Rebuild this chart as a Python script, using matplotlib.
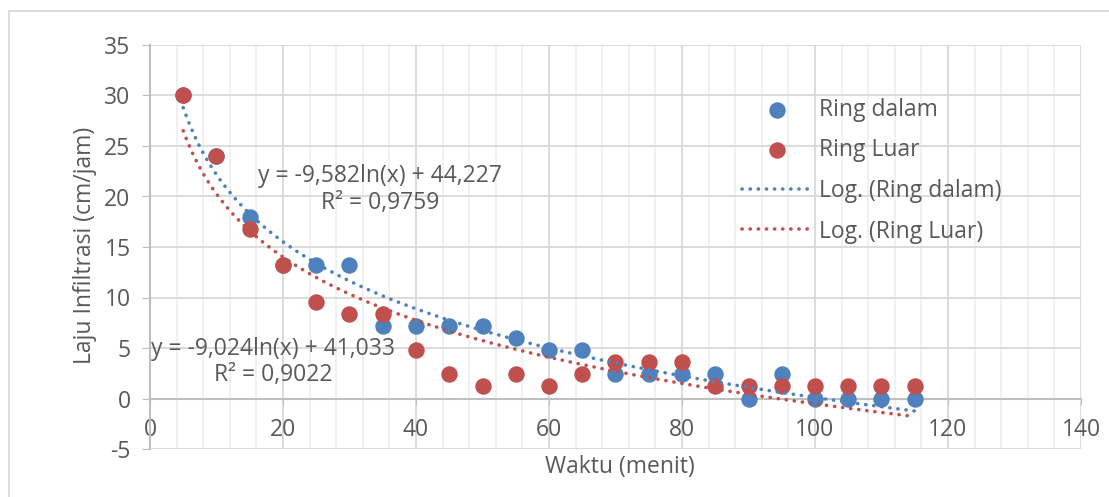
import numpy as np
import matplotlib
matplotlib.use("Agg")
from matplotlib import pyplot as plt
from matplotlib.patches import Rectangle
from matplotlib.ticker import MultipleLocator

# waktu pengukuran (menit)
waktu = [5, 10, 15, 20, 25, 30, 35, 40, 45, 50, 55, 60,
         65, 70, 75, 80, 85, 90, 95, 100, 105, 110, 115]
# laju infiltrasi (cm/jam)
ring_dalam = [30, 24, 18, 13.2, 13.2, 13.2, 7.2, 7.2, 7.2, 7.2, 6, 4.8,
              4.8, 2.4, 2.4, 2.4, 2.4, 0, 2.4, 0, 0, 0, 0]
ring_luar = [30, 24, 16.8, 13.2, 9.6, 8.4, 8.4, 4.8, 2.4, 1.2, 2.4, 1.2,
             2.4, 3.6, 3.6, 3.6, 1.2, 1.2, 1.2, 1.2, 1.2, 1.2, 1.2]

label_dalam = "y = -9,582ln(x) + 44,227\nR² = 0,9759"
label_luar = "y = -9,024ln(x) + 41,033\nR² = 0,9022"

biru = "#4F81BD"
merah = "#C0504D"
teks = "#595959"

plt.rcParams['font.family'] = ['Open Sans', 'DejaVu Sans']
plt.rcParams['font.size'] = 16.5
plt.rcParams['text.color'] = teks
plt.rcParams['axes.unicode_minus'] = False

fig = plt.figure(figsize=(11.09, 4.97), dpi=100)
ax = fig.add_axes([150/1109, 1-449/497, 931/1109, 404/497])

x = np.array(waktu, dtype=float)

# trendline logaritmik (fit dari data, seperti di Excel)
xt = np.linspace(x.min(), x.max(), 200)
a1, b1 = np.polyfit(np.log(x), np.array(ring_dalam), 1)
a2, b2 = np.polyfit(np.log(x), np.array(ring_luar), 1)

ax.scatter(waktu, ring_dalam, s=140, color=biru, zorder=3, label="Ring dalam", linewidths=0)
ax.scatter(waktu, ring_luar, s=140, color=merah, zorder=3, label="Ring Luar", linewidths=0)
dot = (0, (0.05, 2.2))
ax.plot(xt, a1*np.log(xt)+b1, color=biru, lw=2.6, linestyle=dot,
        dash_capstyle='round', label="Log. (Ring dalam)", zorder=4)
ax.plot(xt, a2*np.log(xt)+b2, color=merah, lw=2.6, linestyle=dot,
        dash_capstyle='round', label="Log. (Ring Luar)", zorder=4)

ax.text(34.6, 20.7, label_dalam, ha='center', va='center', linespacing=1.15, color=teks)
ax.text(18.5, 3.6, label_luar, ha='center', va='center', linespacing=1.15, color=teks)

ax.set_xlim(0, 140)
ax.set_ylim(-5, 35)
ax.xaxis.set_major_locator(MultipleLocator(20))
ax.xaxis.set_minor_locator(MultipleLocator(4))
ax.yaxis.set_major_locator(MultipleLocator(5))

ax.grid(which='major', color='#d9d9d9', lw=1.3)
ax.grid(which='minor', axis='x', color='#f0f0f0', lw=1.3)
ax.set_axisbelow(True)

for s in ['top', 'right']:
    ax.spines[s].set_visible(False)
ax.spines['bottom'].set_position(('data', 0))
ax.spines['bottom'].set_color('#bfbfbf')
ax.spines['left'].set_color('#bfbfbf')
ax.spines['bottom'].set_linewidth(1.5)
ax.spines['left'].set_linewidth(1.5)

ax.tick_params(axis='y', which='major', length=6, color='#bfbfbf', labelcolor=teks, pad=8)
ax.tick_params(axis='x', which='major', length=4, color='#bfbfbf', labelcolor=teks, pad=10)
ax.tick_params(axis='x', which='minor', length=0)

ax.set_xlabel("Waktu (menit)", color=teks)
ax.set_ylabel("Laju Infiltrasi (cm/jam)", color=teks)
ax.xaxis.set_label_coords(0.505, -0.045)
ax.xaxis.label.set_va('center')
ax.yaxis.set_label_coords(-0.07, 0.505)
ax.yaxis.label.set_va('center')

ax.legend(loc='upper left', bbox_to_anchor=(742/1109, 1-98/497), bbox_transform=fig.transFigure,
          frameon=False, handlelength=3.05, handletextpad=0.3, labelspacing=0.72,
          borderpad=0, borderaxespad=0)

# bingkai area grafik
fig.patches.append(Rectangle((9/1109, -0.1), 1.2, 1-11/497+0.1, transform=fig.transFigure,
                             fill=False, edgecolor='#d9d9d9', lw=1.3))

plt.savefig("out.png", dpi=100)
